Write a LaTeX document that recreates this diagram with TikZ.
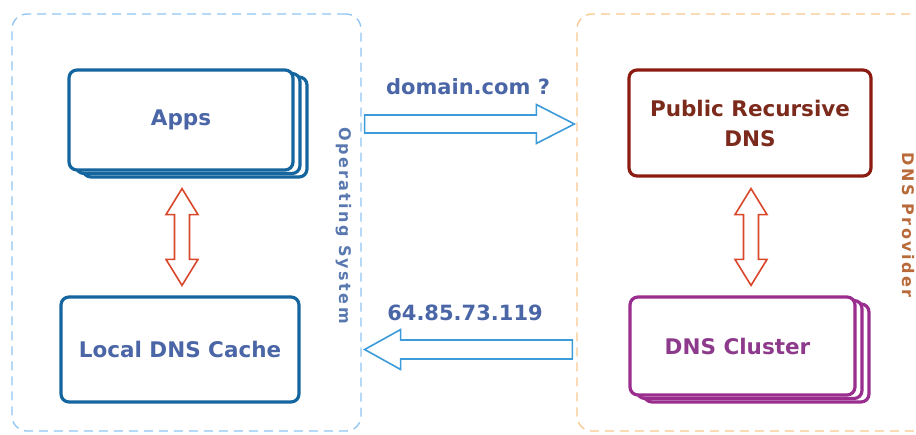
\documentclass[tikz,border=0pt]{standalone}
\usepackage{fontspec}
\setmainfont{DejaVu Sans}
\usetikzlibrary{calc,shadows}
\definecolor{boxblue}{HTML}{15659F}
\definecolor{txtblue}{HTML}{4A66A6}
\definecolor{boxred}{HTML}{8C1C12}
\definecolor{txtred}{HTML}{7C2A1C}
\definecolor{boxpurple}{HTML}{9A2E8E}
\definecolor{txtpurple}{HTML}{8E3A8C}
\definecolor{arrred}{HTML}{D9472B}
\definecolor{arrblue}{HTML}{3D9BD9}
\definecolor{osdash}{HTML}{8EC4F2}
\definecolor{provdash}{HTML}{F8C88E}
\definecolor{oslabel}{HTML}{5A78B0}
\definecolor{provlabel}{HTML}{B86A3A}
\newcommand\vdblarrow[3]{%
  \draw[#1] (#2) -- ++(16,26) -- ++(-8.5,0) -- ($(#3)+(7.5,-26)$) -- ++(8.5,0)
    -- (#3) -- ++(-16,-26) -- ++(8.5,0) -- ($(#2)+(-7.5,26)$) -- ++(-8.5,0) -- cycle;}
\begin{document}
\begin{tikzpicture}[x=1pt,y=-1pt,
  box/.style={rectangle, rounded corners=8pt, line width=3.2pt, fill=white,
    font=\fontsize{21.5}{30}\selectfont\bfseries, align=center, inner sep=0pt},
  stacked/.style={copy shadow={shadow xshift=14pt, shadow yshift=-7pt, fill=white, draw=#1},
    copy shadow={shadow xshift=7pt, shadow yshift=-3.5pt, fill=white, draw=#1}},
  container/.style={rectangle, rounded corners=15pt, dash pattern=on 9pt off 6pt,
    line width=1.3pt, inner sep=0pt},
  sidelabel/.style={rotate=-90, font=\fontsize{16}{19}\selectfont\bfseries\addfontfeatures{LetterSpace=15}},
  msg/.style={text=txtblue, font=\fontsize{21}{25}\selectfont\bfseries},
  redarrow/.style={draw=arrred, line width=1.6pt, fill=white, line join=miter},
  bluearrow/.style={draw=arrblue, line width=1.6pt, fill=white, line join=miter}]
\useasboundingbox (0,0) rectangle (916,434);
\clip (0,0) rectangle (916,434);
% containers
\node[container, draw=osdash, minimum width=349pt, minimum height=417pt] (os) at (186.5,222.5) {};
\node[container, draw=provdash, minimum width=363pt, minimum height=417pt] (prov) at (758.5,222.5) {};
% boxes
\node[box, draw=boxblue, text=txtblue, stacked=boxblue, minimum width=224pt, minimum height=100pt] (apps) at (181,120) {Apps};
\node[box, draw=boxblue, text=txtblue, minimum width=238pt, minimum height=105pt] (cache) at (180,349.5) {Local DNS Cache};
\node[box, draw=boxred, text=txtred, minimum width=242pt, minimum height=106pt] (pub) at (750,123) {Public Recursive\\DNS};
\node[box, draw=boxpurple, text=txtpurple, stacked=boxpurple, minimum width=225pt, minimum height=98pt] (cluster) at (742.5,346) {\hspace*{-10pt}DNS Cluster};
% side labels
\node[sidelabel, text=oslabel] (oslbl) at (344,225.5) {Operating System};
\node[sidelabel, text=provlabel] (provlbl) at (908,225) {DNS Provider};
% messages
\node[msg] (dom) at (468,87) {domain.com ?};
\node[msg] (ip) at (465,313) {64.85.73.119};
% red double arrows
\coordinate (la) at ($(apps.south)+(1,17)$);
\coordinate (lb) at ($(la|-cache.north)+(0,-10)$);
\vdblarrow{redarrow}{la}{lb}
\coordinate (ra) at ($(pub.south)+(1,11)$);
\coordinate (rb) at ($(ra|-cluster.north)+(0,-10)$);
\vdblarrow{redarrow}{ra}{rb}
% blue arrows
\coordinate (qs) at ($(os.east|-apps.center)+(3,4)$);
\coordinate (qt) at ($(prov.west|-apps.center)+(-2,4)$);
\draw[bluearrow] ($(qs)+(0,-9)$) -- ($(qt)+(-38,-9)$) -- ($(qt)+(-38,-19.5)$) -- (qt)
  -- ($(qt)+(-38,19.5)$) -- ($(qt)+(-38,9)$) -- ($(qs)+(0,9)$) -- cycle;
\coordinate (rt) at ($(os.east|-cache.center)+(3,0)$);
\coordinate (rs) at ($(prov.west|-cache.center)+(-4,0)$);
\draw[bluearrow] (rt) -- ($(rt)+(36,-20)$) -- ($(rt)+(36,-9.5)$) -- ($(rs)+(0,-9.5)$)
  -- ($(rs)+(0,9.5)$) -- ($(rt)+(36,9.5)$) -- ($(rt)+(36,20)$) -- cycle;
\end{tikzpicture}
\end{document}
